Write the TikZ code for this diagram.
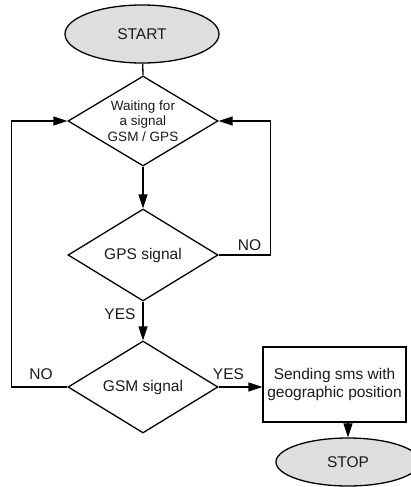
\documentclass[tikz,border=0pt]{standalone}
\usepackage{fontspec}
\setmainfont{Liberation Sans}
\usetikzlibrary{shapes.geometric,arrows.meta}
\definecolor{termfill}{HTML}{DEDEDE}
\definecolor{txt}{HTML}{1A1A1A}
\begin{document}
\begin{tikzpicture}[x=1pt,y=-1pt,
  every node/.style={text=txt,font=\fontsize{15.5}{18}\selectfont},
  line/.style={line width=1.3pt,black},
  arr/.style={line, -{Triangle[length=14pt,width=9pt]}},
  term/.style={ellipse,draw,line width=1.3pt,fill=termfill,inner sep=0pt},
  decision/.style={diamond,draw,line width=1.3pt,inner sep=0pt,aspect=1.6,minimum width=150pt,minimum height=92pt},
  procbox/.style={rectangle,draw,line width=1.3pt,inner sep=0pt,minimum width=143pt,minimum height=75pt,align=center},
  lbl/.style={inner sep=0pt}]
\useasboundingbox (0,0) rectangle (411,487);
\node[term,minimum width=154pt,minimum height=58pt] (start) at (142,34) {START};
\node[decision,minimum height=90pt,align=center,font=\fontsize{13.5}{15.5}\selectfont] (d1) at (143,121) {Waiting for\\a signal\\GSM / GPS};
\node[decision] (d2) at (143,255) {GPS signal};
\node[decision] (d3) at (143,387) {GSM signal};
\node[procbox] (box) at (334.5,384.5) {Sending sms with\\geographic position};
\node[term,minimum width=144pt,minimum height=48pt] (stop) at (348,462) {STOP};
\draw[line] (start) -- (d1.north);
\draw[arr] (d1.south) -- (d2.north);
\draw[arr] (d2.south) -- (d3.north);
\draw[arr] (d2.east) -- ++(52,0) coordinate (rl) |- (d1.east);
\draw[arr] (d3.west) -- ++(-56,0) coordinate (ll) |- (d1.west);
\draw[arr] (d3.east) -- (d3.east -| box.west);
\draw[arr] (box.south -| stop.north) -- (stop.north);
\node[lbl] (no1) at (249.5,245) {NO};
\node[lbl] (yes1) at (120,314) {YES};
\node[lbl] (no2) at (41,374) {NO};
\node[lbl] (yes2) at (228.5,374) {YES};
\end{tikzpicture}
\end{document}
